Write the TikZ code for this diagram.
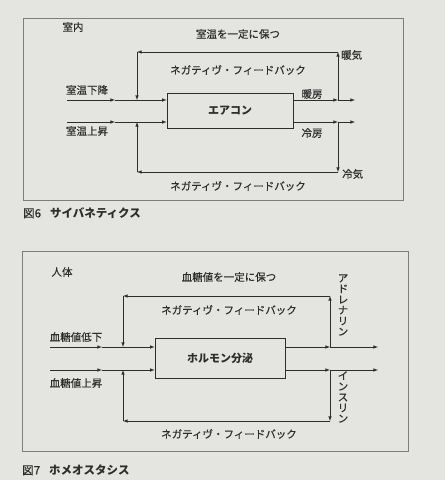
\documentclass[tikz,border=0pt]{standalone}
\usepackage{fontspec}
\setmainfont{Noto Sans CJK JP}[UprightFeatures={FakeBold=0.3}]
\usetikzlibrary{positioning}
\definecolor{pageclr}{RGB}{228,228,225}
\definecolor{inkclr}{RGB}{45,45,45}
\definecolor{frameclr}{RGB}{125,125,125}
\tikzset{ %
  ,>=latex
  ,every node/.style={text=inkclr, inner sep=0}
  ,frame/.style={draw=frameclr, line width=0.6pt}
  ,unit/.style={draw=inkclr, line width=0.7pt, font=\fontsize{11}{13}\selectfont\bfseries}
  ,lbl/.style={font=\fontsize{10.5}{12}\selectfont}
  ,vlbl/.style={align=center, font=\fontsize{10.5}{10.7}\selectfont}
  ,figcap/.style={anchor=west, font=\fontsize{11.5}{14}\selectfont\bfseries}
  ,flow/.style={draw=inkclr, line width=0.6pt}
}
\newcommand{\fignum}[1]{{\mdseries\fontsize{11.5}{13}\selectfont #1}\hspace{9pt}}
\begin{document}
\begin{tikzpicture}[x=1pt, y=-1pt]
  \fill[pageclr] (0,0) rectangle (445,480);
  \useasboundingbox (0,0) rectangle (445,480);

  % fig 6
  \draw[frame] (23,18) rectangle (403,200);
  \node[lbl] (room) at (73,27) {室内};
  \node[lbl] (keepT) at (238,34) {室温を一定に保つ};
  \node[lbl] (negT1) at (238,70) {ネガティヴ・フィードバック};
  \node[unit, minimum width=126pt, minimum height=35pt] (ac) at (230,111) {エアコン};
  \coordinate (inA) at (67,100);
  \coordinate (inB) at (67,122);
  \coordinate (midA) at (115,100);
  \coordinate (midB) at (115,122);
  \coordinate (jA) at (137,100);
  \coordinate (jB) at (137,122);
  \coordinate (kA) at (338,100);
  \coordinate (kB) at (338,122);
  \coordinate (outA) at (355,100);
  \coordinate (outB) at (355,122);
  \coordinate (tl) at (137,52);
  \coordinate (tr) at (338,52);
  \coordinate (bl) at (137,172);
  \coordinate (br) at (338,172);
  \node[lbl] (down) at (87,90) {室温下降};
  \node[lbl] (up) at (87,131) {室温上昇};
  \node[lbl] (heat) at (312,94) {暖房};
  \node[lbl] (cool) at (312,133) {冷房};
  \node[lbl, anchor=west] (warm) at (341,55) {暖気};
  \node[lbl, anchor=west] (cold) at (342,174) {冷気};
  \node[lbl] (negB1) at (238,186) {ネガティヴ・フィードバック};
  \node[figcap] (cap6) at (23,213) {\fignum{図6}サイバネティクス};
  \draw[flow,->] (inA) -- (midA);
  \draw[flow,->] (midA) -- (ac.west |- midA);
  \draw[flow,->] (inB) -- (midB);
  \draw[flow,->] (midB) -- (ac.west |- midB);
  \draw[flow,->] (ac.east |- kA) -- (kA);
  \draw[flow,->] (kA) -- (outA);
  \draw[flow,->] (ac.east |- kB) -- (kB);
  \draw[flow,->] (kB) -- (outB);
  \draw[flow,->] (kA) -- (tr);
  \draw[flow,->] (tr) -- (tl);
  \draw[flow,->] (tl) -- (jA);
  \draw[flow,->] (kB) -- (br);
  \draw[flow,->] (br) -- (bl);
  \draw[flow,->] (bl) -- (jB);

  % fig 7
  \draw[frame] (22,251) rectangle (408,451);
  \node[lbl] (body) at (62,272) {人体};
  \node[lbl] (keepG) at (229,277) {血糖値を一定に保つ};
  \node[lbl] (negT2) at (229,310) {ネガティヴ・フィードバック};
  \node[unit, minimum width=130pt, minimum height=40pt] (hm) at (220,358) {ホルモン分泌};
  \coordinate (inC) at (50,347);
  \coordinate (inD) at (50,370);
  \coordinate (midC) at (102,347);
  \coordinate (midD) at (102,370);
  \coordinate (jC) at (123,347);
  \coordinate (jD) at (123,370);
  \coordinate (kC) at (330,347);
  \coordinate (kD) at (330,370);
  \coordinate (outC) at (378,347);
  \coordinate (outD) at (378,370);
  \coordinate (tl2) at (123,296);
  \coordinate (tr2) at (330,296);
  \coordinate (bl2) at (123,421);
  \coordinate (br2) at (330,421);
  \node[lbl] (low) at (76,337) {血糖値低下};
  \node[lbl] (high) at (76,383) {血糖値上昇};
  \node[vlbl] (adr) at (343,305) {ア\\ド\\レ\\ナ\\リ\\ン};
  \node[vlbl] (ins) at (343,397) {イ\\ン\\ス\\リ\\ン};
  \node[lbl] (negB2) at (229,434) {ネガティヴ・フィードバック};
  \node[figcap] (cap7) at (22,470) {\fignum{図7}ホメオスタシス};
  \draw[flow,->] (inC) -- (midC);
  \draw[flow,->] (midC) -- (hm.west |- midC);
  \draw[flow,->] (inD) -- (midD);
  \draw[flow,->] (midD) -- (hm.west |- midD);
  \draw[flow,->] (hm.east |- kC) -- (kC);
  \draw[flow,->] (kC) -- (outC);
  \draw[flow,->] (hm.east |- kD) -- (kD);
  \draw[flow,->] (kD) -- (outD);
  \draw[flow,->] (kC) -- (tr2);
  \draw[flow,->] (tr2) -- (tl2);
  \draw[flow,->] (tl2) -- (jC);
  \draw[flow,->] (kD) -- (br2);
  \draw[flow,->] (br2) -- (bl2);
  \draw[flow,->] (bl2) -- (jD);
\end{tikzpicture}
\end{document}
